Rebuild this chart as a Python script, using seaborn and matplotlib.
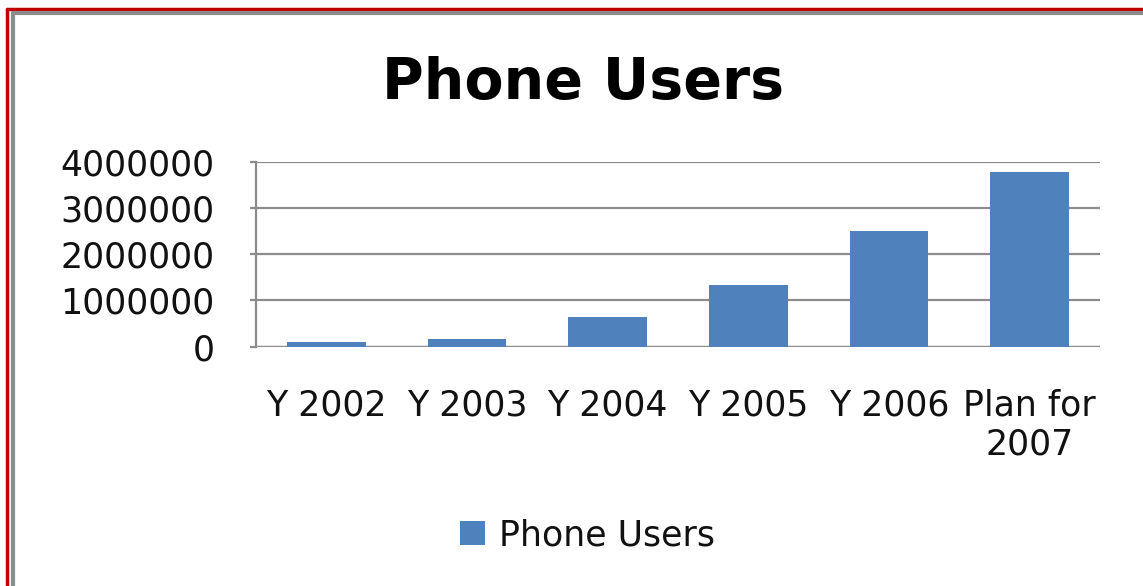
import pandas as pd
import numpy as np
import matplotlib.pyplot as plt
import seaborn as sns
from matplotlib.lines import Line2D

categories = ['Y 2002', 'Y 2003', 'Y 2004', 'Y 2005', 'Y 2006', 'Plan for\n2007']
phone_users = [90000, 170000, 640000, 1330000, 2500000, 3780000]
y_ticks = [0, 1000000, 2000000, 3000000, 4000000]
series_name = 'Phone Users'

data = pd.DataFrame({'year': categories, 'users': phone_users, 'series': series_name})

sns.set_theme(style="white")
plt.rcParams['font.family'] = ['DejaVu Sans']

fig = plt.figure(figsize=(11.43, 5.86), dpi=100)
ax = fig.add_axes([0.224, 0.4087, 0.7384, 0.3153])

sns.barplot(data=data, x='year', y='users', hue='series',
            palette=['#4F81BD'], width=0.56, saturation=1,
            linewidth=0, edgecolor='none',
            legend=True, ax=ax)

ax.set_ylim(0, 4000000)
ax.set_yticks(y_ticks)
ax.set_yticklabels([str(v) for v in y_ticks])
ax.set_xlim(-0.5, len(categories) - 0.5)
ax.yaxis.grid(True, color='#8c8c8c', linewidth=1.6)
ax.set_axisbelow(True)
for side in ['top', 'right', 'bottom']:
    ax.spines[side].set_visible(False)
ax.spines['left'].set_color('#8c8c8c')
ax.spines['left'].set_linewidth(1.6)
ax.axhline(0, color='#8c8c8c', linewidth=1.6, zorder=0)

ax.tick_params(axis='y', labelsize=25, colors='#8c8c8c', labelcolor='#111111',
               length=4, width=1.6, pad=26, left=True)
ax.tick_params(axis='x', labelsize=25, labelcolor='#111111', length=0, pad=30)
ax.set_xlabel('')
ax.set_ylabel('')

fig.suptitle('Phone Users', fontsize=41, fontweight='bold', color='black',
             x=0.51, y=0.905)

handles, labels = ax.get_legend_handles_labels()
ax.get_legend().remove()
fig.legend(handles, labels, loc='center', bbox_to_anchor=(0.514, 0.087),
           frameon=False, fontsize=25, handlelength=0.7, handleheight=0.7,
           handletextpad=0.4, labelcolor='#111111')

# chart frame: red outer line and grey inner line
fig.add_artist(Line2D([0.006, 0.006], [0, 0.985], color='#C00000', lw=2.5, transform=fig.transFigure))
fig.add_artist(Line2D([0.006, 1], [0.985, 0.985], color='#C00000', lw=2.5, transform=fig.transFigure))
fig.add_artist(Line2D([0.0115, 0.0115], [0, 0.978], color='#8c8c8c', lw=3, transform=fig.transFigure))
fig.add_artist(Line2D([0.0115, 1], [0.978, 0.978], color='#8c8c8c', lw=3, transform=fig.transFigure))

plt.savefig('out.png', dpi=100)
